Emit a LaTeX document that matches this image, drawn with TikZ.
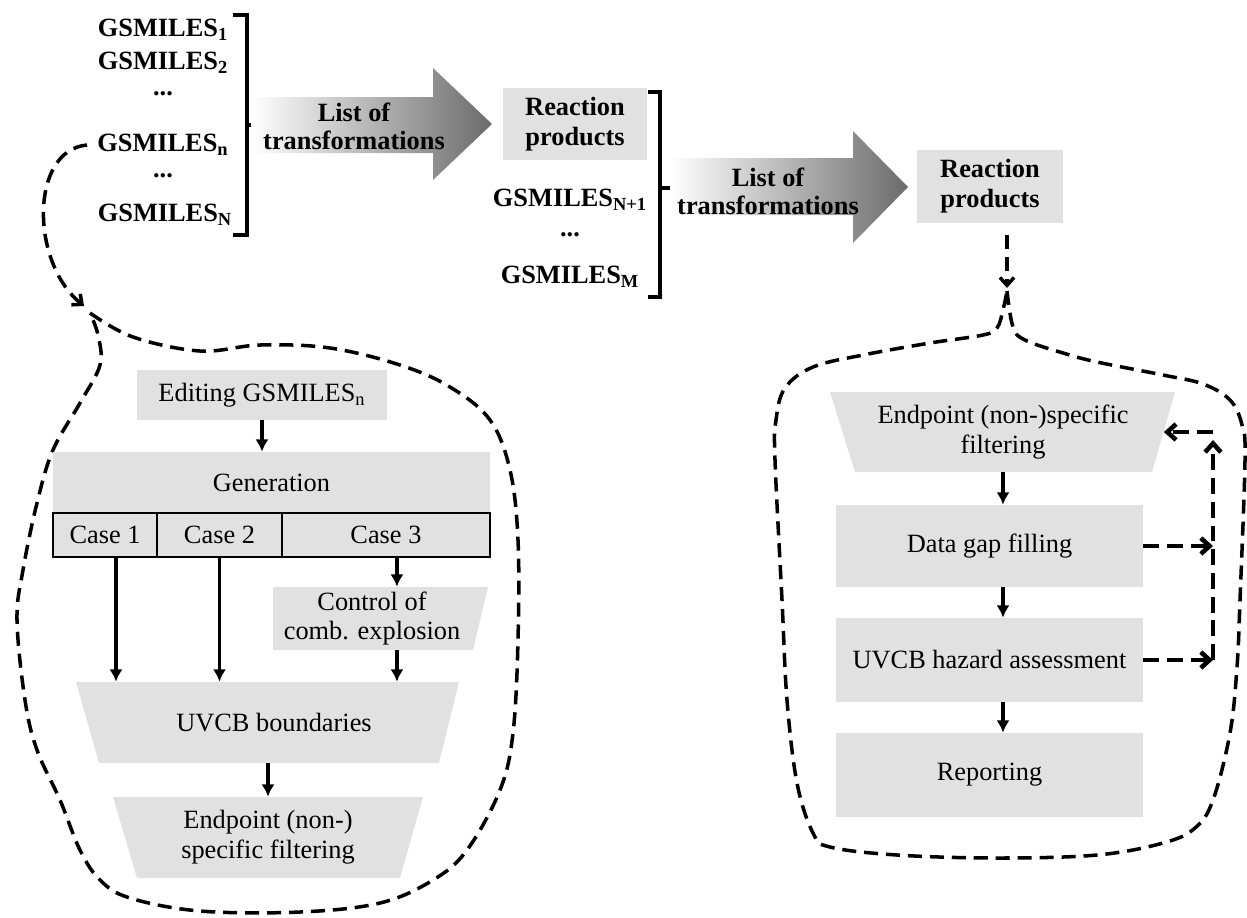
\documentclass[tikz,border=0pt]{standalone}
\usepackage{fontspec}
\setmainfont{Liberation Serif}
\usepackage{xcolor}
\usetikzlibrary{arrows.meta,positioning}
\definecolor{boxgray}{RGB}{225,225,225}

\begin{document}
\begin{tikzpicture}[x=0.02cm, y=-0.02cm,
  lab/.style={font=\fontsize{15}{16}\selectfont\bfseries, align=center, inner sep=0pt},
  txt/.style={font=\fontsize{15}{17}\selectfont, align=center, inner sep=0pt},
  gbox/.style={txt, fill=boxgray},
  casebox/.style={gbox, draw, line width=1.5pt, outer sep=0pt, minimum height=0.88cm},
  arr/.style={-{Latex[length=7pt,width=7.5pt]}, line width=1.8pt},
  loop/.style={dash pattern=on 8pt off 4.5pt, line width=2pt},
  looparr/.style={loop, -{Straight Barb[length=4.5pt,width=8pt]}},
  fbarr/.style={-{Straight Barb[length=5pt,width=9pt]}, dash pattern=on 9pt off 4.5pt, line width=2.6pt},
  brk/.style={line width=1.8pt},
  bigarr/.style={left color=white, right color=black!58}
]
\useasboundingbox (0,0) rectangle (1247,917);

% input list
\node[lab] (g1) at (163,30) {GSMILES\textsubscript{1}};
\node[lab] (g2) at (163,63) {GSMILES\textsubscript{2}};
\node[lab] (d1) at (163,94) {...};
\node[lab] (gn) at (163,145) {GSMILES\textsubscript{n}};
\node[lab] (d2) at (163,176) {...};
\node[lab] (gN) at (165,215) {GSMILES\textsubscript{N}};
\draw[brk] (233,15) -- (247,15) -- (247,235) -- (233,235);
\draw[brk] (247,125) -- (265,125);

% first transformation
\shade[bigarr] (251,97) -- (433,97) -- (433,68) -- (492,124) -- (433,180) -- (433,153) -- (251,153) -- cycle;
\node[lab] (lt1) at (354,126) {List of\\transformations};
\node[gbox, font=\fontsize{15}{17}\selectfont\bfseries, minimum width=2.9cm, minimum height=1.44cm] (rp1) at (575,124) {Reaction\\products};
\node[lab] (gN1) at (570,200) {GSMILES\textsubscript{N+1}};
\node[lab] (d3) at (570,235) {...};
\node[lab] (gM) at (570,277) {GSMILES\textsubscript{M}};
\draw[brk] (648,92) -- (660,92) -- (660,297) -- (648,297);
\draw[brk] (660,188) -- (680,188);

% second transformation
\shade[bigarr] (670,158) -- (853,158) -- (853,131) -- (908,187) -- (853,243) -- (853,215) -- (670,215) -- cycle;
\node[lab] (lt2) at (768,191) {List of\\transformations};
\node[gbox, font=\fontsize{15}{17}\selectfont\bfseries, minimum width=2.92cm, minimum height=1.46cm] (rp2) at (990,186) {Reaction\\products};

% left loop
\coordinate (lcusp) at (84,306);
\draw[looparr] ([xshift=-0.2cm]gn.west) .. controls (30,150) and (30,262) .. (lcusp);
\draw[loop] plot[smooth, tension=0.6] coordinates {(90,313) (133,337) (200,351) (260,345) (330,348) (400,365) (450,387) (490,420) (510,470) (518,540) (518,640) (513,733) (500,790) (467,850) (433,880) (380,903) (300,912) (200,911) (130,898) (100,880) (80,850) (60,800) (37,750) (25,700) (17,620) (23,570) (37,503) (53,450) (80,403) (100,365) (98,335) (90,313)};

% left flow
\node[gbox, minimum width=5cm, minimum height=1cm] (ed) at (262,395) {Editing GSMILES\textsubscript{n}};
\node[gbox, minimum width=8.74cm, minimum height=1.22cm] (gen) at (271.5,482.5) {Generation};
\node[casebox, minimum width=2.08cm] (c1) at (105,535) {Case 1};
\node[casebox, minimum width=2.5cm, right=0pt of c1] (c2) {Case 2};
\node[casebox, minimum width=4.16cm, right=0pt of c2] (c3) {Case 3};
\fill[boxgray] (273,587) -- (488,587) -- (473,650) -- (273,650) -- cycle;
\node[txt, minimum height=1.26cm] (ctl) at (372,618.5) {Control of\\comb. explosion};
\fill[boxgray] (76,682) -- (459,682) -- (439,763) -- (99,763) -- cycle;
\node[txt, minimum height=1.62cm] (ub) at (274,722.5) {UVCB boundaries};
\fill[boxgray] (113,797) -- (423,797) -- (400,878) -- (137,878) -- cycle;
\node[txt, minimum height=1.62cm] (lef) at (268,837.5) {Endpoint (non-)\\specific filtering};
\draw[arr] (ed) -- (ed |- gen.north);
\draw[arr] ([xshift=0.22cm]c1.south) -- ([xshift=0.22cm]c1.south |- ub.north);
\draw[arr] (c2.south) -- (c2.south |- ub.north);
\draw[arr] ([xshift=0.22cm]c3.south) -- ([xshift=0.22cm]c3.south |- ctl.north);
\draw[arr] ([xshift=0.22cm]c3.south |- ctl.south) -- ([xshift=0.22cm]c3.south |- ub.north);
\draw[arr] (ub.south -| lef) -- (lef.north);

% right loop
\coordinate (rcusp) at (1007,288);
\draw[looparr] ([yshift=-0.24cm]rp2.south -| rcusp) -- (rcusp);
\draw[loop] plot[smooth, tension=0.6] coordinates {(1007,291) (1013,327) (1025,340) (1063,353) (1097,362) (1163,375) (1203,384) (1230,400) (1242,425) (1245,460) (1240,600) (1237,667) (1230,733) (1213,800) (1195,828) (1163,843) (1097,855) (997,858) (897,855) (830,847) (813,833) (797,783) (787,700) (782,600) (775,460) (776,420) (785,388) (813,367) (863,355) (930,343) (983,335) (997,328) (1003,310) (1007,291)};

% right flow
\fill[boxgray] (830,392) -- (1175,392) -- (1152,472) -- (855,472) -- cycle;
\node[txt, minimum width=6.42cm, minimum height=1.6cm] (rf) at (1003,432) {Endpoint (non-)specific\\filtering};
\node[gbox, minimum width=6.14cm, minimum height=1.64cm] (gap) at (989.5,546) {Data gap filling};
\node[gbox, minimum width=6.14cm, minimum height=1.68cm] (haz) at (989.5,660) {UVCB hazard assessment};
\node[gbox, minimum width=6.14cm, minimum height=1.68cm] (rep) at (989.5,775) {Reporting};
\draw[arr] (rf.south) -- (rf.south |- gap.north);
\draw[arr] (gap.south -| rf) -- (haz.north -| rf);
\draw[arr] (haz.south -| rf) -- (rep.north -| rf);

% feedback
\coordinate (fb) at (1213,432);
\draw[fbarr] (gap.east) -- (gap.east -| fb);
\draw[fbarr] (haz.east) -- (haz.east -| fb);
\draw[fbarr] (haz.east -| fb) -- ([yshift=-0.16cm]fb);
\draw[fbarr] (fb) -- (rf.east);
\end{tikzpicture}
\end{document}
